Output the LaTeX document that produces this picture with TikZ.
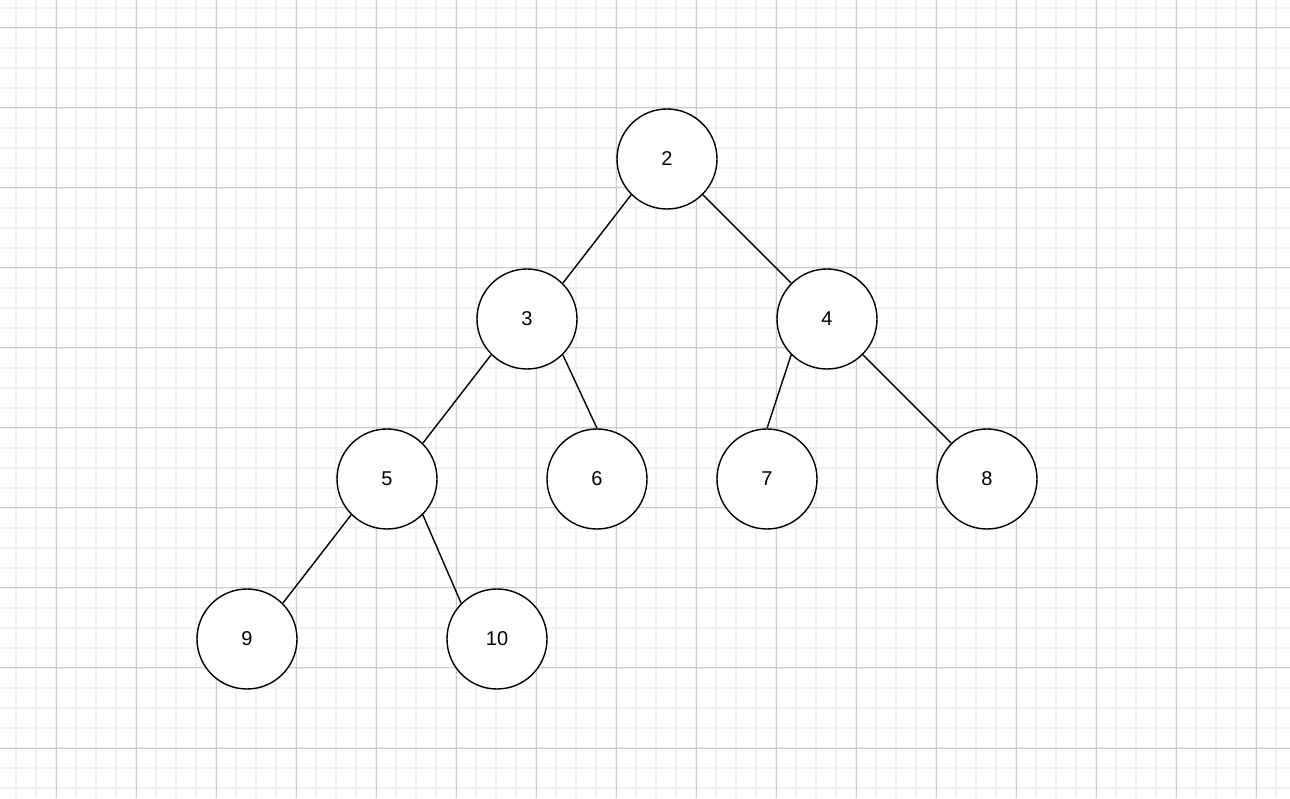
\documentclass[tikz,border=0pt]{standalone}
\usepackage{fontspec}
\setmainfont{Liberation Sans}
\usepackage{tikz}
\usetikzlibrary{positioning}

\begin{document}
\begin{tikzpicture}[x=1pt,y=1pt, node distance=160pt, vert/.style={draw,circle,fill=white,minimum size=100pt,inner sep=0pt,line width=1.4pt,font=\fontsize{20}{24}\selectfont}, edge/.style={line width=1.4pt}, minorline/.style={draw=black!6,line width=1.6pt}, majorline/.style={draw=black!20,line width=1pt}]
% background grid
\useasboundingbox (0,0) rectangle (1290,798);
\fill[white] (0,0) rectangle (1290,798);
\foreach \x in {16,36,...,1276} \draw[minorline] (\x,0) -- (\x,798);
\foreach \y in {10,30,...,790} \draw[minorline] (0,\y) -- (1290,\y);
\foreach \x in {56,136,...,1256} \draw[majorline] (\x,0) -- (\x,798);
\foreach \y in {50,130,...,770} \draw[majorline] (0,\y) -- (1290,\y);
% tree
\node[vert] (n2) at (667,639) {2};
\node[vert,on grid,below left=160pt and 140pt of n2] (n3) {3};
\node[vert,on grid,below right=160pt and 160pt of n2] (n4) {4};
\node[vert,on grid,below left=160pt and 140pt of n3] (n5) {5};
\node[vert,on grid,below right=160pt and 70pt of n3] (n6) {6};
\node[vert,on grid,below left=160pt and 60pt of n4] (n7) {7};
\node[vert,on grid,below right=160pt and 160pt of n4] (n8) {8};
\node[vert,on grid,below left=160pt and 140pt of n5] (n9) {9};
\node[vert,on grid,below right=160pt and 110pt of n5] (n10) {10};
\draw[edge] (n2.south west)--(n3.north east);\draw[edge] (n2.south east)--(n4.north west);
\draw[edge] (n3.south west)--(n5.north east);\draw[edge] (n3.south east)--(n6.north);
\draw[edge] (n4.south west)--(n7.north);\draw[edge] (n4.south east)--(n8.north west);
\draw[edge] (n5.south west)--(n9.north east);\draw[edge] (n5.south east)--(n10.north west);
\end{tikzpicture}
\end{document}
